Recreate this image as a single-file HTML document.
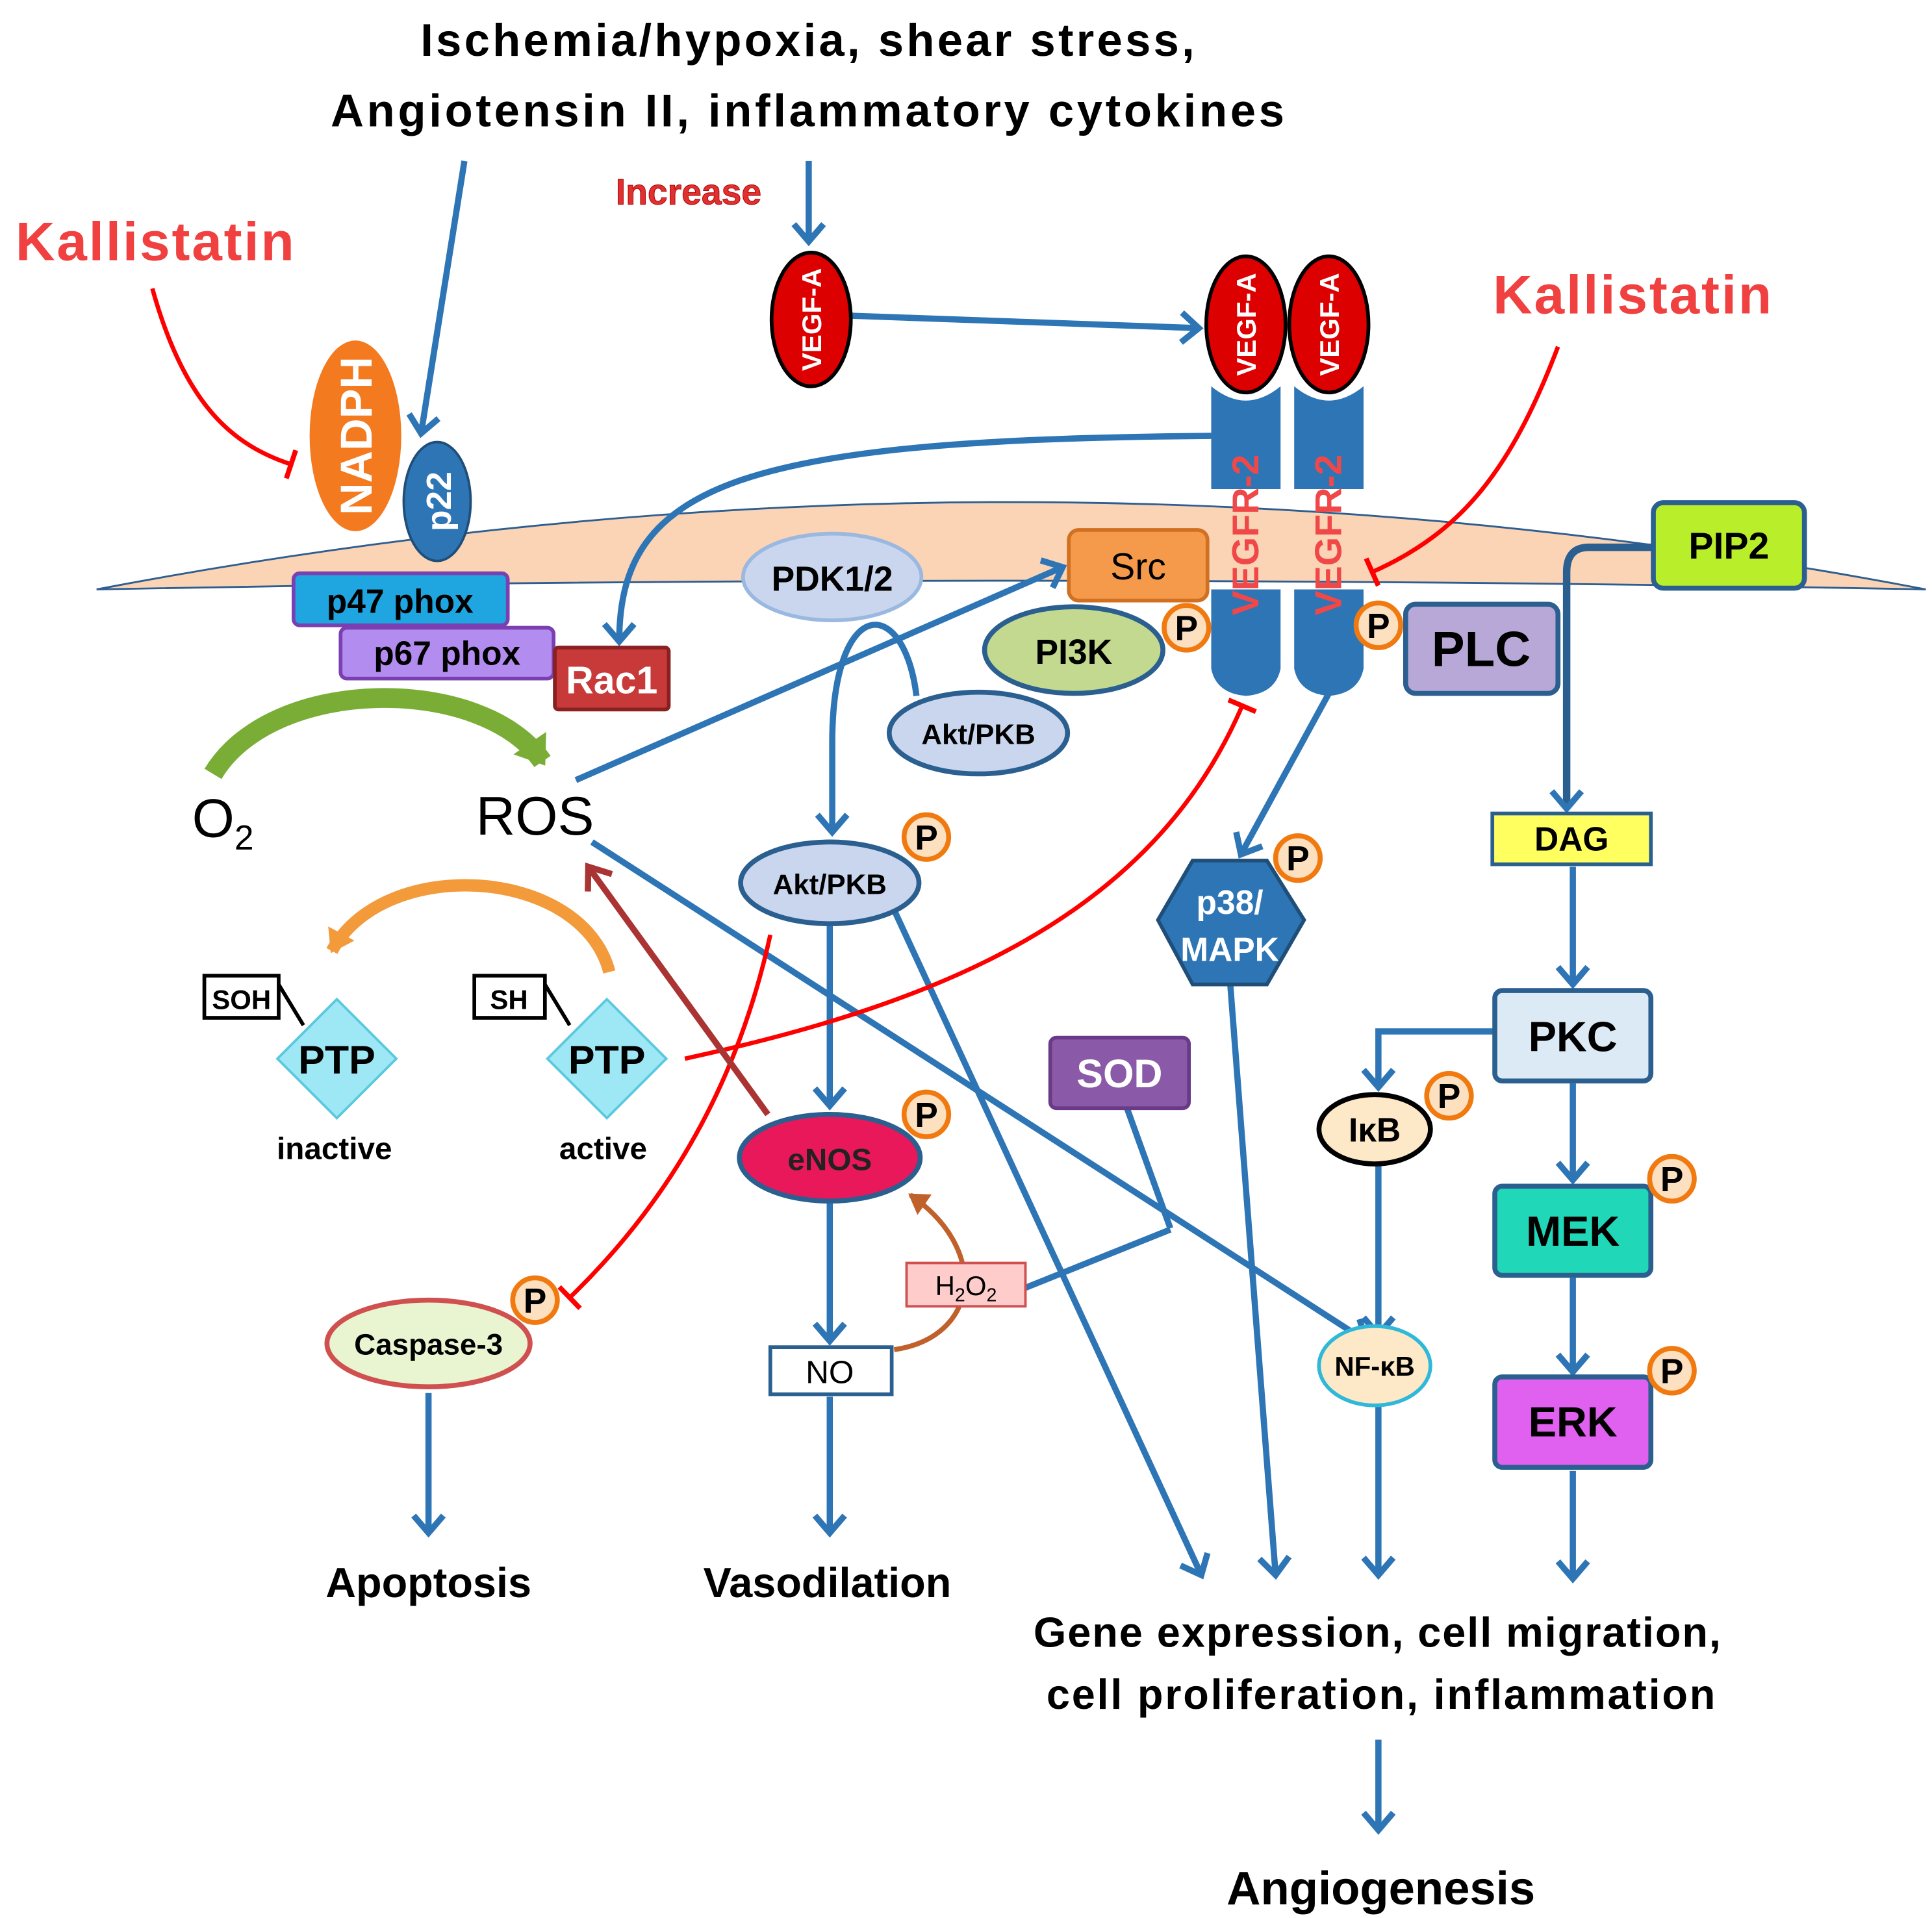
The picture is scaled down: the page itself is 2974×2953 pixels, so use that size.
<!DOCTYPE html>
<html><head><meta charset="utf-8"><style>
html,body{margin:0;padding:0;background:#fff}
svg{display:block}
text{font-family:"Liberation Sans",sans-serif;font-weight:bold}
</style></head><body>
<svg width="2974" height="2953" viewBox="0 0 1560 1549" preserveAspectRatio="none" xmlns="http://www.w3.org/2000/svg">
<defs>
<marker id="b" markerWidth="1" markerHeight="1" markerUnits="userSpaceOnUse" orient="auto" style="overflow:visible">
<path d="M-14,-12 L0,0 L-14,12" fill="none" stroke="#2e75b6" stroke-width="5"/></marker>
<marker id="t" markerWidth="1" markerHeight="1" markerUnits="userSpaceOnUse" orient="auto" style="overflow:visible">
<path d="M0,-12 L0,12" stroke="#f00" stroke-width="4"/></marker>
<marker id="d" markerWidth="1" markerHeight="1" markerUnits="userSpaceOnUse" orient="auto" style="overflow:visible">
<path d="M-16,-12 L0,0 L-16,12" fill="none" stroke="#a33" stroke-width="5"/></marker>
<marker id="o" markerWidth="1" markerHeight="1" markerUnits="userSpaceOnUse" orient="auto" style="overflow:visible">
<path d="M-16,-12 L2,0 L-16,12 Z" fill="#f39a3a"/></marker>
<marker id="g" markerWidth="1" markerHeight="1" markerUnits="userSpaceOnUse" orient="auto" style="overflow:visible">
<path d="M-18,-16 L4,0 L-18,16 Z" fill="#7aad35"/></marker>
<marker id="h" markerWidth="1" markerHeight="1" markerUnits="userSpaceOnUse" orient="auto" style="overflow:visible">
<path d="M-14,-10 L2,0 L-14,10 Z" fill="#c0602a"/></marker>
</defs>

<!-- title -->
<text x="652" y="45" font-size="37" text-anchor="middle" textLength="625">Ischemia/hypoxia, shear stress,</text>
<text x="652" y="102" font-size="37" text-anchor="middle" textLength="770">Angiotensin II, inflammatory cytokines</text>
<text x="556" y="165" font-size="29" text-anchor="middle" fill="#e03030" stroke="#a00" stroke-width="0.5">Increase</text>
<text x="125" y="210" font-size="44" text-anchor="middle" fill="#f04040" textLength="225">Kallistatin</text>
<text x="1318" y="253" font-size="44" text-anchor="middle" fill="#f04040" textLength="225">Kallistatin</text>

<!-- membrane -->
<path d="M78,476 Q816,335 1555,476 Q816,462 78,476 Z" fill="#fbd3b5" stroke="#2e5e90" stroke-width="1.5"/>

<g stroke="#2e75b6" stroke-width="5" fill="none" marker-end="url(#b)">
<path d="M375,130 L340,350"/>
<path d="M653,130 L653,195"/>
<path d="M688,255 L968,265"/>
<path d="M978,352 C600,355 500,390 500,518"/>
<path d="M465,630 L858,458"/>
<path d="M740,562 C730,480 672,480 672,600 L672,672"/>
<path d="M670,748 L670,893"/>
<path d="M670,972 L670,1083"/>
<path d="M670,1128 L670,1238"/>
<path d="M722,735 L970,1272"/>
<path d="M346,1125 L346,1238"/>
<path d="M478,680 L1103,1083"/>
<path d="M1073,560 L1002,690"/>
<path d="M993,790 L1030,1272"/>
<path d="M1113,940 L1113,1078"/>
<path d="M1113,1135 L1113,1272"/>
<path d="M1270,700 L1270,795"/>
<path d="M1270,875 L1270,953"/>
<path d="M1270,1032 L1270,1108"/>
<path d="M1270,1188 L1270,1275"/>
<path d="M1113,1405 L1113,1478"/>
<path d="M1207,833 L1113,833 L1113,878"/>
</g>
<path d="M1335,442 L1283,442 Q1265,442 1265,462 L1265,653" stroke="#2a5f8f" stroke-width="6" fill="none" marker-end="url(#b)"/>
<path d="M910,895 L945,992 M828,1040 L945,993" stroke="#2e75b6" stroke-width="5" fill="none"/>

<!-- red inhibit -->
<g stroke="#f00" stroke-width="3.5" fill="none" marker-end="url(#t)">
<path d="M123,233 C150,330 190,360 235,375"/>
<path d="M1258,280 C1220,380 1180,430 1108,462"/>
<path d="M553,855 C760,810 930,740 1003,570"/>
<path d="M622,755 C590,900 520,990 460,1048"/>
</g>

<!-- receptors -->
<g fill="#2e75b6">
<path d="M978,312 Q1006,335 1034,312 L1034,395 L978,395 Z"/>
<path d="M1045,312 Q1073,335 1101,312 L1101,395 L1045,395 Z"/>
<path d="M978,476 L1034,476 L1034,540 Q1030,560 1006,562 Q982,560 978,540 Z"/>
<path d="M1045,476 L1101,476 L1101,540 Q1097,560 1073,562 Q1049,560 1045,540 Z"/>
</g>
<text transform="translate(1016,432) rotate(-90)" font-size="30" text-anchor="middle" fill="#f04848">VEGFR-2</text>
<text transform="translate(1083,432) rotate(-90)" font-size="30" text-anchor="middle" fill="#f04848">VEGFR-2</text>

<!-- VEGF-A -->
<g fill="#d00" stroke="#000" stroke-width="3">
<ellipse cx="655" cy="258" rx="32" ry="54"/>
<ellipse cx="1006" cy="262" rx="32" ry="55"/>
<ellipse cx="1073" cy="262" rx="32" ry="55"/>
</g>
<g fill="#fff" font-size="22" text-anchor="middle">
<text transform="translate(663,258) rotate(-90)">VEGF-A</text>
<text transform="translate(1014,262) rotate(-90)">VEGF-A</text>
<text transform="translate(1081,262) rotate(-90)">VEGF-A</text>
</g>

<!-- NADPH complex -->
<ellipse cx="287" cy="352" rx="37" ry="77" fill="#f47a20"/>
<text transform="translate(300,352) rotate(-90)" font-size="36" text-anchor="middle" fill="#fff">NADPH</text>
<ellipse cx="353" cy="405" rx="27" ry="48" fill="#2e75b6" stroke="#1f4e79" stroke-width="2"/>
<text transform="translate(364,405) rotate(-90)" font-size="28" text-anchor="middle" fill="#fff">p22</text>
<rect x="237" y="463" width="173" height="42" rx="5" fill="#1fa6e0" stroke="#7a3fb0" stroke-width="3"/>
<text x="323" y="495" font-size="27" text-anchor="middle">p47 phox</text>
<rect x="275" y="507" width="172" height="41" rx="5" fill="#b38cf0" stroke="#7a3fb0" stroke-width="3"/>
<text x="361" y="537" font-size="27" text-anchor="middle">p67 phox</text>
<rect x="448" y="523" width="92" height="50" rx="3" fill="#c83a3a" stroke="#8a2020" stroke-width="3"/>
<text x="494" y="560" font-size="31" text-anchor="middle" fill="#fff">Rac1</text>

<path d="M172,625 C220,545 390,545 438,615" stroke="#7aad35" stroke-width="16" fill="none" marker-end="url(#g)"/>
<text x="180" y="676" font-size="44" style="font-weight:normal" text-anchor="middle">O<tspan font-size="28" dy="10">2</tspan></text>
<text x="432" y="674" font-size="44" style="font-weight:normal" text-anchor="middle">ROS</text>

<path d="M492,785 C470,700 310,690 268,768" stroke="#f39a3a" stroke-width="10" fill="none" marker-end="url(#o)"/>
<path d="M620,900 L475,700" stroke="#a33" stroke-width="5" fill="none" marker-end="url(#d)"/>

<!-- PTPs -->
<rect x="165" y="788" width="60" height="34" fill="#fff" stroke="#000" stroke-width="3"/>
<text x="195" y="815" font-size="22" text-anchor="middle">SOH</text>
<path d="M225,795 L245,828" stroke="#000" stroke-width="3"/>
<path d="M272,807 L320,855 L272,903 L224,855 Z" fill="#9ee8f5" stroke="#5bc8e0" stroke-width="2"/>
<text x="272" y="867" font-size="32" text-anchor="middle">PTP</text>
<text x="270" y="936" font-size="25" text-anchor="middle">inactive</text>
<rect x="383" y="788" width="57" height="34" fill="#fff" stroke="#000" stroke-width="3"/>
<text x="411" y="815" font-size="22" text-anchor="middle">SH</text>
<path d="M440,795 L460,828" stroke="#000" stroke-width="3"/>
<path d="M490,807 L538,855 L490,903 L442,855 Z" fill="#9ee8f5" stroke="#5bc8e0" stroke-width="2"/>
<text x="490" y="867" font-size="32" text-anchor="middle">PTP</text>
<text x="487" y="936" font-size="25" text-anchor="middle">active</text>

<!-- PI3K etc -->
<ellipse cx="672" cy="466" rx="72" ry="35" fill="#c9d6ee" stroke="#9ab8e0" stroke-width="3"/>
<text x="672" y="477" font-size="28" text-anchor="middle">PDK1/2</text>
<rect x="863" y="428" width="112" height="57" rx="8" fill="#f59a4a" stroke="#d07020" stroke-width="3"/>
<text x="919" y="468" font-size="30" style="font-weight:normal" text-anchor="middle">Src</text>
<ellipse cx="867" cy="525" rx="72" ry="35" fill="#c3d98f" stroke="#2a5f8f" stroke-width="4"/>
<text x="867" y="536" font-size="28" text-anchor="middle">PI3K</text>
<ellipse cx="790" cy="592" rx="72" ry="33" fill="#c9d6ee" stroke="#2a5f8f" stroke-width="4"/>
<text x="790" y="601" font-size="23" text-anchor="middle">Akt/PKB</text>
<ellipse cx="670" cy="713" rx="72" ry="33" fill="#c9d6ee" stroke="#2a5f8f" stroke-width="4"/>
<text x="670" y="722" font-size="23" text-anchor="middle">Akt/PKB</text>
<ellipse cx="670" cy="935" rx="73" ry="35" fill="#e8185a" stroke="#2a5f8f" stroke-width="4"/>
<text x="670" y="945" font-size="25" text-anchor="middle" fill="#222">eNOS</text>
<rect x="622" y="1088" width="98" height="38" fill="#fff" stroke="#2a5f8f" stroke-width="3"/>
<text x="670" y="1117" font-size="26" style="font-weight:normal" text-anchor="middle">NO</text>
<text x="668" y="1290" font-size="34" text-anchor="middle">Vasodilation</text>
<ellipse cx="346" cy="1085" rx="82" ry="35" fill="#e8f5d0" stroke="#d05050" stroke-width="4"/>
<text x="346" y="1094" font-size="24" text-anchor="middle">Caspase-3</text>
<text x="346" y="1290" font-size="34" text-anchor="middle">Apoptosis</text>

<path d="M722,1090 C790,1080 800,1010 735,965" stroke="#c0602a" stroke-width="4" fill="none" marker-end="url(#h)"/>
<rect x="732" y="1020" width="96" height="35" fill="#fcc" stroke="#d05050" stroke-width="2"/>
<text x="780" y="1046" font-size="22" style="font-weight:normal" text-anchor="middle">H<tspan font-size="15" dy="5">2</tspan><tspan dy="-5">O</tspan><tspan font-size="15" dy="5">2</tspan></text>
<rect x="848" y="838" width="112" height="57" rx="5" fill="#8a5aa8" stroke="#6a3a88" stroke-width="3"/>
<text x="904" y="878" font-size="32" text-anchor="middle" fill="#fff">SOD</text>

<!-- p38 -->
<path d="M963,695 L1023,695 L1053,743 L1023,795 L963,795 L935,743 Z" fill="#2e75b6" stroke="#1f4e79" stroke-width="3"/>
<text x="993" y="738" font-size="27" text-anchor="middle" fill="#fff">p38/</text>
<text x="993" y="776" font-size="27" text-anchor="middle" fill="#fff">MAPK</text>

<!-- right column -->
<rect x="1135" y="488" width="123" height="72" rx="8" fill="#b8a8d8" stroke="#2a5f8f" stroke-width="4"/>
<text x="1196" y="538" font-size="40" text-anchor="middle">PLC</text>
<rect x="1335" y="406" width="122" height="69" rx="8" fill="#b8ee2a" stroke="#2a5f8f" stroke-width="4"/>
<text x="1396" y="451" font-size="30" text-anchor="middle">PIP2</text>
<rect x="1205" y="657" width="128" height="41" fill="#ffff60" stroke="#2a5f8f" stroke-width="3"/>
<text x="1269" y="687" font-size="27" text-anchor="middle">DAG</text>
<rect x="1207" y="800" width="126" height="73" rx="6" fill="#dbeaf5" stroke="#2a5f8f" stroke-width="4"/>
<text x="1270" y="849" font-size="34" text-anchor="middle">PKC</text>
<rect x="1207" y="958" width="126" height="72" rx="6" fill="#20d8b8" stroke="#2a5f8f" stroke-width="4"/>
<text x="1270" y="1006" font-size="34" text-anchor="middle">MEK</text>
<rect x="1207" y="1112" width="126" height="73" rx="6" fill="#e060f0" stroke="#2a5f8f" stroke-width="4"/>
<text x="1270" y="1160" font-size="34" text-anchor="middle">ERK</text>
<ellipse cx="1110" cy="912" rx="45" ry="28" fill="#fde8c8" stroke="#000" stroke-width="4"/>
<text x="1110" y="922" font-size="27" text-anchor="middle">IκB</text>
<ellipse cx="1110" cy="1103" rx="45" ry="32" fill="#fde8c8" stroke="#30b8d8" stroke-width="3"/>
<text x="1110" y="1111" font-size="22" text-anchor="middle">NF-κB</text>

<!-- P circles -->
<g fill="#fde0c0" stroke="#f07a10" stroke-width="4">
<circle cx="958" cy="507" r="18"/><circle cx="1113" cy="505" r="18"/>
<circle cx="748" cy="676" r="18"/><circle cx="748" cy="900" r="18"/>
<circle cx="432" cy="1050" r="18"/><circle cx="1048" cy="693" r="18"/>
<circle cx="1170" cy="885" r="18"/><circle cx="1350" cy="952" r="18"/>
<circle cx="1350" cy="1107" r="18"/>
</g>
<g font-size="28" text-anchor="middle">
<text x="958" y="517">P</text><text x="1113" y="515">P</text>
<text x="748" y="686">P</text><text x="748" y="910">P</text>
<text x="432" y="1060">P</text><text x="1048" y="703">P</text>
<text x="1170" y="895">P</text><text x="1350" y="962">P</text>
<text x="1350" y="1117">P</text>
</g>

<text x="1112" y="1330" font-size="34" text-anchor="middle" textLength="555">Gene expression, cell migration,</text>
<text x="1115" y="1380" font-size="34" text-anchor="middle" textLength="540">cell proliferation, inflammation</text>
<text x="1115" y="1538" font-size="38" text-anchor="middle">Angiogenesis</text>
</svg>
</body></html>
